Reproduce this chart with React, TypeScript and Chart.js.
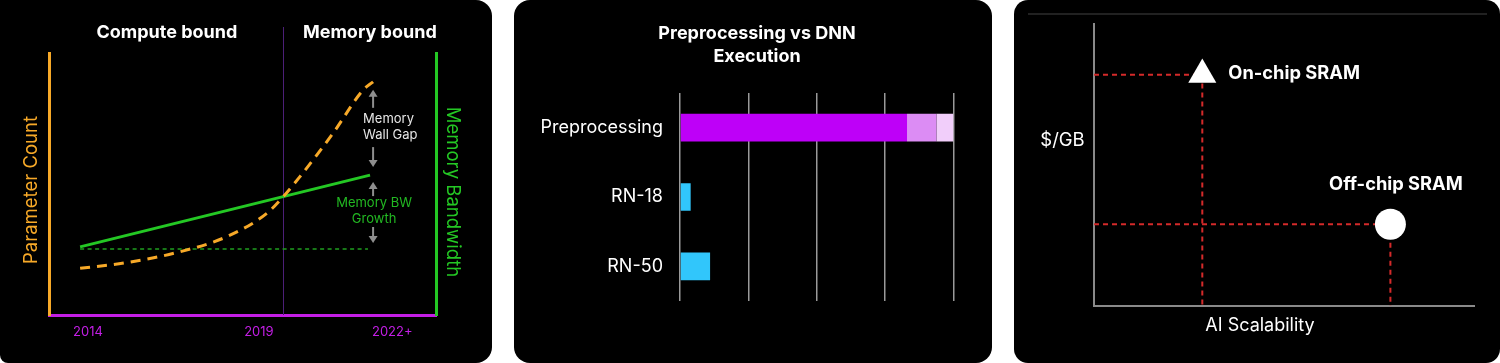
import React, { useEffect, useRef } from 'react';
import { Chart, registerables } from 'chart.js';

Chart.register(...registerables);

const FONT = 'Inter, "Noto Sans", "DejaVu Sans", sans-serif';

// ---------- Panel 1: memory wall ----------
const paramYears = [2013.77, 2015.13, 2016.59, 2018.06, 2019.23, 2019.7, 2020.2, 2021.17, 2022.05, 2022.34];
const paramCount = [17.8, 20.0, 23.8, 29.9, 38.8, 45.0, 52.8, 69.4, 85.9, 89.0];
const bandwidthYears = [2013.77, 2022.25];
const bandwidthValues = [26.0, 53.4];
const baselineYears = [2013.77, 2022.19];
const baselineValues = [25.2, 25.2];
const yearTicks = [2014, 2019, 2022.9];
const yearTickLabels = ['2014', '2019', '2022+'];
const regimeSplitYear = 2019.7;
const regimeLabels = ['Compute bound', 'Memory bound'];
const gapLabel = ['Memory', 'Wall Gap'];
const growthLabel = ['Memory BW', 'Growth'];

// ---------- Panel 2: preprocessing vs DNN ----------
const stageCategories = ['Preprocessing', 'RN-18', 'RN-50'];
const stageMain = [3.32, 0.156, 0.44];
const stageMid = [0.43, 0, 0];
const stageTail = [0.25, 0, 0];
const stageTitle = ['Preprocessing vs DNN', 'Execution'];

// ---------- Panel 3: cost vs scalability ----------
const memoryNames = ['On-chip SRAM', 'Off-chip SRAM'];
const memoryScalability = [2.85, 7.8];
const memoryCost = [8.2, 2.9];
const memoryShapes = ['triangle', 'circle'];
const axisNames = ['AI Scalability', '$/GB'];

const ORANGE = '#f7a928';
const GREEN = '#24c824';
const MAGENTA = '#c41ee6';

function drawArrow(ctx: CanvasRenderingContext2D, x: number, yFrom: number, yTip: number) {
  const dir = Math.sign(yTip - yFrom);
  ctx.beginPath();
  ctx.moveTo(x, yFrom);
  ctx.lineTo(x, yTip - dir * 5);
  ctx.stroke();
  ctx.beginPath();
  ctx.moveTo(x, yTip);
  ctx.lineTo(x - 4.5, yTip - dir * 7);
  ctx.lineTo(x + 4.5, yTip - dir * 7);
  ctx.closePath();
  ctx.fill();
}

function Panel1() {
  const ref = useRef<HTMLCanvasElement>(null);
  useEffect(() => {
    const plugin = {
      id: 'wallDecor',
      beforeDatasetsDraw(chart: any) {
        const { ctx, chartArea, scales } = chart;
        const x = Math.round(scales.x.getPixelForValue(regimeSplitYear)) + 0.5;
        ctx.save();
        ctx.strokeStyle = '#4c1f78';
        ctx.lineWidth = 1;
        ctx.beginPath();
        ctx.moveTo(x, 27);
        ctx.lineTo(x, chartArea.bottom);
        ctx.stroke();
        ctx.restore();
      },
      afterDraw(chart: any) {
        const { ctx, chartArea, scales } = chart;
        const split = scales.x.getPixelForValue(regimeSplitYear);
        ctx.save();
        ctx.textBaseline = 'middle';
        ctx.textAlign = 'center';
        ctx.fillStyle = '#ffffff';
        ctx.font = `bold 18px ${FONT}`;
        ctx.fillText(regimeLabels[0], (chartArea.left + split) / 2 + 1, 33);
        ctx.fillText(regimeLabels[1], split + 87, 33);

        ctx.font = `18.5px ${FONT}`;
        const midY = (chartArea.top + chartArea.bottom) / 2;
        ctx.save();
        ctx.translate(chartArea.left - 18, midY + 6);
        ctx.rotate(-Math.PI / 2);
        ctx.fillStyle = ORANGE;
        ctx.fillText('Parameter Count', 0, 0);
        ctx.restore();
        ctx.save();
        ctx.translate(chartArea.right + 17, midY + 8);
        ctx.rotate(Math.PI / 2);
        ctx.fillStyle = GREEN;
        ctx.fillText('Memory Bandwidth', 0, 0);
        ctx.restore();

        const xA = scales.x.getPixelForValue(paramYears[paramYears.length - 1]);
        const yTop = scales.y.getPixelForValue(paramCount[paramCount.length - 1]);
        const yBw = scales.y.getPixelForValue(bandwidthValues[bandwidthValues.length - 1]);
        const yBase = scales.y.getPixelForValue(baselineValues[0]);
        ctx.strokeStyle = '#8e8e8e';
        ctx.fillStyle = '#8e8e8e';
        ctx.lineWidth = 2;
        drawArrow(ctx, xA, yTop + 26, yTop + 8);
        drawArrow(ctx, xA, yBw - 28, yBw - 8);
        drawArrow(ctx, xA, yBw + 21, yBw + 7);
        drawArrow(ctx, xA, yBase - 22, yBase - 6);

        ctx.font = `13px ${FONT}`;
        const mid1 = (yTop + yBw) / 2;
        ctx.textAlign = 'left';
        ctx.fillStyle = '#e6e6e6';
        ctx.fillText(gapLabel[0], xA - 10, mid1 - 9);
        ctx.fillText(gapLabel[1], xA - 10, mid1 + 7);
        const mid2 = (yBw + yBase) / 2;
        ctx.textAlign = 'center';
        ctx.fillStyle = '#22b822';
        ctx.fillText(growthLabel[0], xA + 1, mid2 - 9);
        ctx.fillText(growthLabel[1], xA + 1, mid2 + 7);
        ctx.restore();
      },
    };
    const chart = new Chart(ref.current!, {
      type: 'line',
      data: {
        datasets: [
          {
            label: 'Parameter Count',
            data: paramYears.map((x, i) => ({ x, y: paramCount[i] })),
            borderColor: ORANGE,
            borderWidth: 3,
            borderDash: [10, 7],
            cubicInterpolationMode: 'monotone',
            pointRadius: 0,
            fill: false,
          },
          {
            label: 'Memory Bandwidth',
            data: bandwidthYears.map((x, i) => ({ x, y: bandwidthValues[i] })),
            borderColor: GREEN,
            borderWidth: 3,
            pointRadius: 0,
            fill: false,
          },
          {
            label: 'Baseline',
            data: baselineYears.map((x, i) => ({ x, y: baselineValues[i] })),
            borderColor: '#1f9f1f',
            borderWidth: 1.5,
            borderDash: [4, 3.5],
            pointRadius: 0,
            fill: false,
          },
        ],
      },
      options: {
        responsive: false,
        animation: false,
        events: [],
        layout: { padding: { left: 49, right: 56, top: 53, bottom: 0 } },
        plugins: { legend: { display: false }, tooltip: { enabled: false } },
        scales: {
          x: {
            type: 'linear',
            min: 2012.86,
            max: 2024.18,
            grid: { display: false, drawTicks: false },
            border: { display: true, color: MAGENTA, width: 3 },
            afterBuildTicks: (scale: any) => {
              scale.ticks = yearTicks.map((v) => ({ value: v }));
            },
            afterFit: (scale: any) => {
              scale.height = 48;
            },
            ticks: {
              autoSkip: false,
              maxRotation: 0,
              padding: 9,
              color: MAGENTA,
              font: { family: FONT, size: 13 },
              callback: (_v: any, i: number) => yearTickLabels[i],
            },
          },
          y: {
            min: 0,
            max: 100,
            position: 'left',
            grid: { display: false, drawTicks: false },
            border: { display: true, color: ORANGE, width: 3 },
            ticks: { display: false },
          },
          y2: {
            min: 0,
            max: 100,
            position: 'right',
            grid: { display: false, drawTicks: false },
            border: { display: true, color: GREEN, width: 3 },
            ticks: { display: false },
          },
        },
      } as any,
      plugins: [plugin],
    });
    return () => chart.destroy();
  }, []);
  return <canvas ref={ref} width={492} height={363} style={{ display: 'block' }} />;
}

function Panel2() {
  const ref = useRef<HTMLCanvasElement>(null);
  useEffect(() => {
    const plugin = {
      id: 'stageTitle',
      afterDraw(chart: any) {
        const { ctx, chartArea } = chart;
        ctx.save();
        ctx.fillStyle = '#ffffff';
        ctx.font = `bold 18px ${FONT}`;
        ctx.textAlign = 'center';
        ctx.textBaseline = 'middle';
        const cx = (chartArea.right + 46.5) / 2;
        stageTitle.forEach((line, i) => ctx.fillText(line, cx, 34 + i * 23));
        ctx.restore();
      },
    };
    const chart = new Chart(ref.current!, {
      type: 'bar',
      data: {
        labels: stageCategories,
        datasets: [
          {
            label: 'Main',
            data: stageMain,
            backgroundColor: ['#be00f8', '#31c6fb', '#31c6fb'],
            borderWidth: 0,
          },
          { label: 'Mid', data: stageMid, backgroundColor: '#dc8cf4', borderWidth: 0 },
          { label: 'Tail', data: stageTail, backgroundColor: '#f1cefa', borderWidth: 0 },
        ],
      },
      options: {
        indexAxis: 'y',
        responsive: false,
        animation: false,
        events: [],
        datasets: { bar: { barPercentage: 0.4, categoryPercentage: 1 } },
        layout: { padding: { left: 8, right: 38.5, top: 93, bottom: 62 } },
        plugins: {
          legend: { display: false },
          tooltip: { enabled: false },
        },
        scales: {
          x: {
            stacked: true,
            min: 0,
            max: 4,
            grid: { display: true, drawTicks: false, color: '#9a9a9a', lineWidth: 1.5 },
            border: { display: false },
            ticks: { display: false, stepSize: 1 },
            afterFit: (scale: any) => {
              scale.height = 0;
            },
          },
          y: {
            stacked: true,
            grid: { display: false, drawTicks: false },
            border: { display: false },
            ticks: { color: '#ffffff', padding: 17, font: { family: FONT, size: 18 } },
            afterFit: (scale: any) => {
              scale.width = 158;
            },
          },
        },
      } as any,
      plugins: [plugin],
    });
    return () => chart.destroy();
  }, []);
  return <canvas ref={ref} width={478} height={363} style={{ display: 'block' }} />;
}

function Panel3() {
  const ref = useRef<HTMLCanvasElement>(null);
  useEffect(() => {
    const plugin = {
      id: 'costDecor',
      beforeDraw(chart: any) {
        const { ctx } = chart;
        ctx.save();
        ctx.strokeStyle = '#2c2c2c';
        ctx.lineWidth = 1.5;
        ctx.beginPath();
        ctx.moveTo(14, 14);
        ctx.lineTo(473, 14);
        ctx.stroke();
        ctx.restore();
      },
      afterDraw(chart: any) {
        const { ctx, chartArea } = chart;
        const pts = chart.getDatasetMeta(0).data;
        ctx.save();
        ctx.fillStyle = '#ffffff';
        ctx.textBaseline = 'middle';
        ctx.font = `bold 18.3px ${FONT}`;
        ctx.textAlign = 'left';
        ctx.fillText(memoryNames[0], pts[0].x + 26, pts[0].y - 1);
        ctx.textAlign = 'center';
        ctx.fillText(memoryNames[1], pts[1].x + 5.5, pts[1].y - 40);
        ctx.font = `18.5px ${FONT}`;
        ctx.fillText(axisNames[1], chartArea.left - 31.5, 140);
        ctx.font = `18px ${FONT}`;
        ctx.fillText(axisNames[0], chartArea.left + 166, chartArea.bottom + 20);
        ctx.restore();
      },
    };
    const guide = (i: number) => [
      { x: 0, y: memoryCost[i] },
      { x: memoryScalability[i], y: memoryCost[i] },
      { x: memoryScalability[i], y: 0 },
    ];
    const guideStyle = {
      showLine: true,
      borderColor: '#d42a2a',
      borderWidth: 2,
      borderDash: [5, 4],
      pointRadius: 0,
      fill: false,
    };
    const chart = new Chart(ref.current!, {
      type: 'scatter',
      data: {
        datasets: [
          {
            label: 'Memory',
            data: memoryScalability.map((x, i) => ({ x, y: memoryCost[i] })),
            pointStyle: memoryShapes as any,
            pointRadius: [16.2, 15.5],
            backgroundColor: '#ffffff',
            borderWidth: 0,
            clip: false,
          },
          { label: memoryNames[0], data: guide(0), ...guideStyle },
          { label: memoryNames[1], data: guide(1), ...guideStyle },
        ],
      },
      options: {
        responsive: false,
        animation: false,
        events: [],
        layout: { padding: { left: 80, right: 26, top: 24, bottom: 57 } },
        plugins: { legend: { display: false }, tooltip: { enabled: false } },
        scales: {
          x: {
            type: 'linear',
            min: 0,
            max: 10,
            grid: { display: false, drawTicks: false },
            border: { display: true, color: '#8a8a8a', width: 2 },
            ticks: { display: false },
          },
          y: {
            min: 0,
            max: 10,
            grid: { display: false, drawTicks: false },
            border: { display: true, color: '#8a8a8a', width: 2 },
            ticks: { display: false },
          },
        },
      } as any,
      plugins: [plugin],
    });
    return () => chart.destroy();
  }, []);
  return <canvas ref={ref} width={486} height={363} style={{ display: 'block' }} />;
}

const panelBase: React.CSSProperties = {
  position: 'absolute',
  top: 0,
  height: 363,
  background: '#000000',
  overflow: 'hidden',
};

export default function App() {
  return (
    <div style={{ position: 'fixed', left: 0, top: 0, width: 1500, height: 363, background: '#ffffff', overflow: 'hidden' }}>
      <div style={{ ...panelBase, left: 0, width: 492, borderRadius: '0 16px 16px 8px' }}>
        <Panel1 />
      </div>
      <div style={{ ...panelBase, left: 514, width: 478, borderRadius: 16 }}>
        <Panel2 />
      </div>
      <div style={{ ...panelBase, left: 1014, width: 486, borderRadius: 14 }}>
        <Panel3 />
      </div>
    </div>
  );
}
